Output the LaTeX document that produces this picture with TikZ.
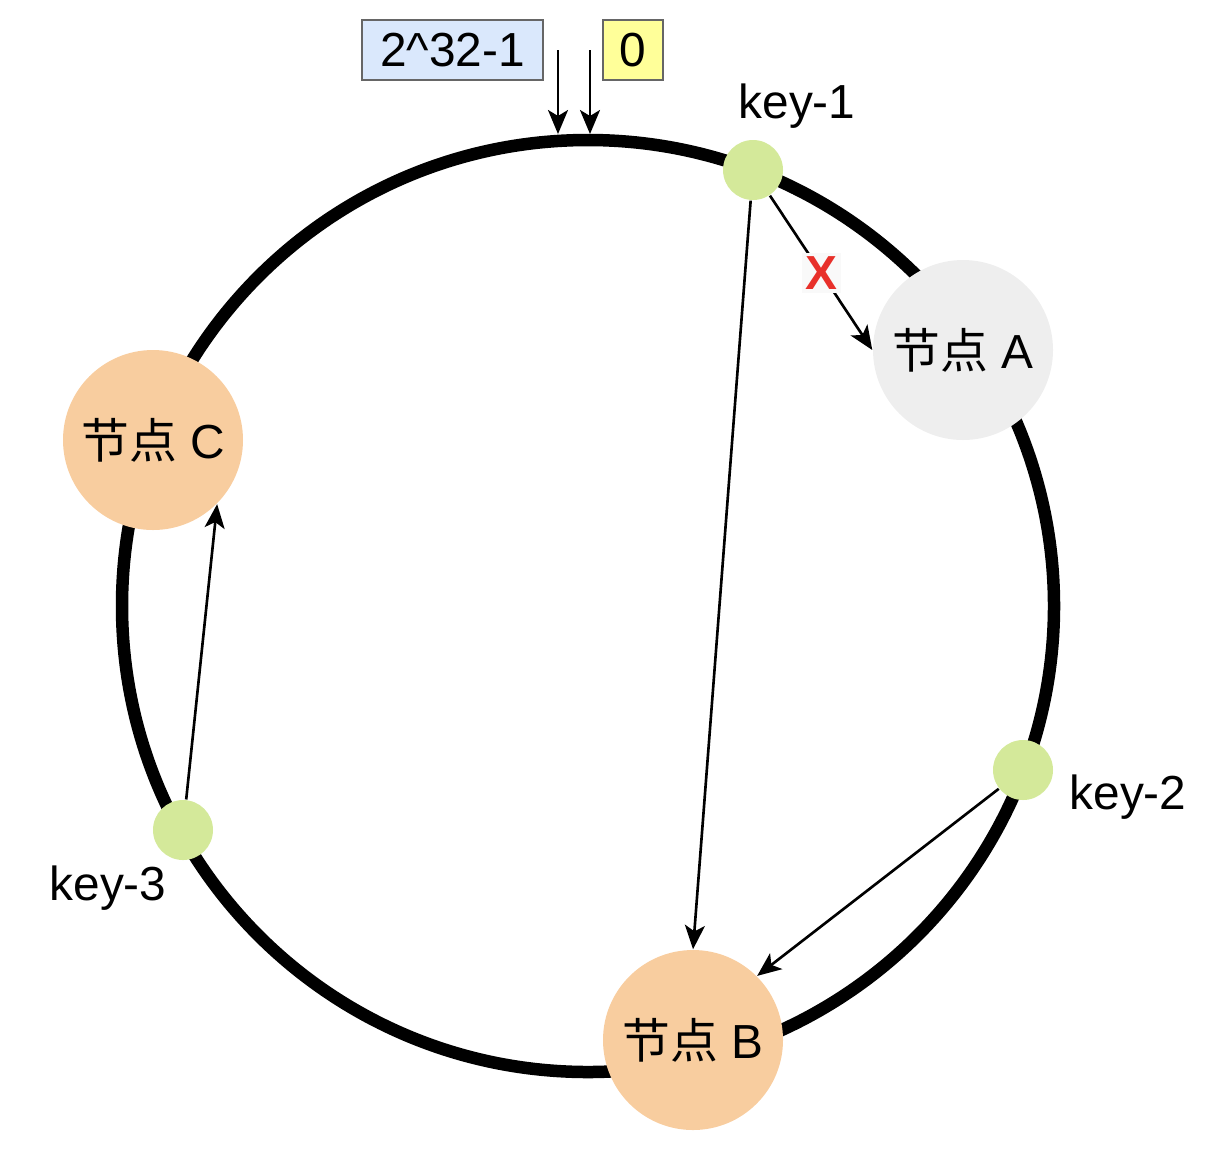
\documentclass[tikz,border=0pt]{standalone}
\usepackage{fontspec}
\setmainfont{Liberation Sans}
\newfontfamily\cjk{Noto Sans CJK SC}
\usepackage{xcolor}
\usepackage{tikz}
\usetikzlibrary{positioning,shapes,arrows.meta}
\definecolor{peach}{HTML}{F8CD9F}
\definecolor{lgray}{HTML}{EEEEEE}
\definecolor{lgreen}{HTML}{D4E99A}
\definecolor{lblue}{HTML}{DAE8FC}
\definecolor{lyellow}{HTML}{FFFF99}
\definecolor{xred}{HTML}{E8302A}

\begin{document}
\begin{tikzpicture}[x=1cm,y=-1cm,
    txt/.style={font=\fontsize{13.6}{16}\selectfont},
    server/.style={circle,minimum size=1.8cm,inner sep=0pt,txt},
    keydot/.style={circle,fill=lgreen,minimum size=0.6cm,inner sep=0pt},
    endbox/.style={draw=black!60,line width=0.5pt,minimum height=0.6cm,inner sep=2pt,txt},
    link/.style={line width=0.75pt,-{Stealth[length=0.24cm,width=0.2cm,inset=0.06cm]}}]
    \useasboundingbox (0,0) rectangle (12.16,11.54);
    % hash ring
    \draw[line width=0.125cm] (5.88,6.06) circle (4.66);
    % start of ring
    \node[endbox,fill=lblue,minimum width=1.81cm] (max) at (4.525,0.50) {2\textasciicircum32-1};
    \node[endbox,fill=lyellow,minimum width=0.6cm] (zero) at (6.33,0.50) {0};
    \coordinate (maxin) at (5.58,0.50);
    \coordinate (maxat) at (5.58,1.34);
    \coordinate (zeroin) at (5.90,0.50);
    \coordinate (zeroat) at (5.90,1.34);
    \draw[link] (maxin) -- (maxat);
    \draw[link] (zeroin) -- (zeroat);
    % servers
    \node[server,fill=lgray] (A) at (9.63,3.50) {{\cjk 节点} A};
    \node[server,fill=peach] (B) at (6.93,10.40) {{\cjk 节点} B};
    \node[server,fill=peach] (C) at (1.53,4.40) {{\cjk 节点} C};
    % keys
    \node[keydot] (k1) at (7.53,1.70) {};
    \node[keydot] (k2) at (10.23,7.70) {};
    \node[keydot] (k3) at (1.83,8.30) {};
    \node[txt] (k1lab) at (7.97,1.06) {key-1};
    \node[txt] (k2lab) at (11.28,7.97) {key-2};
    \node[txt] (k3lab) at (1.08,8.88) {key-3};
    % lookups
    \draw[link] (k1) -- node[fill=gray!5,inner sep=1pt,text=xred,font=\fontsize{13.6}{16}\selectfont\bfseries] (cross) {X} (A.west);
    \draw[link] (k1) -- (B.north);
    \draw[link] (k2) -- (B.north east);
    \draw[link] (k3) -- (C.south east);
\end{tikzpicture}
\end{document}
